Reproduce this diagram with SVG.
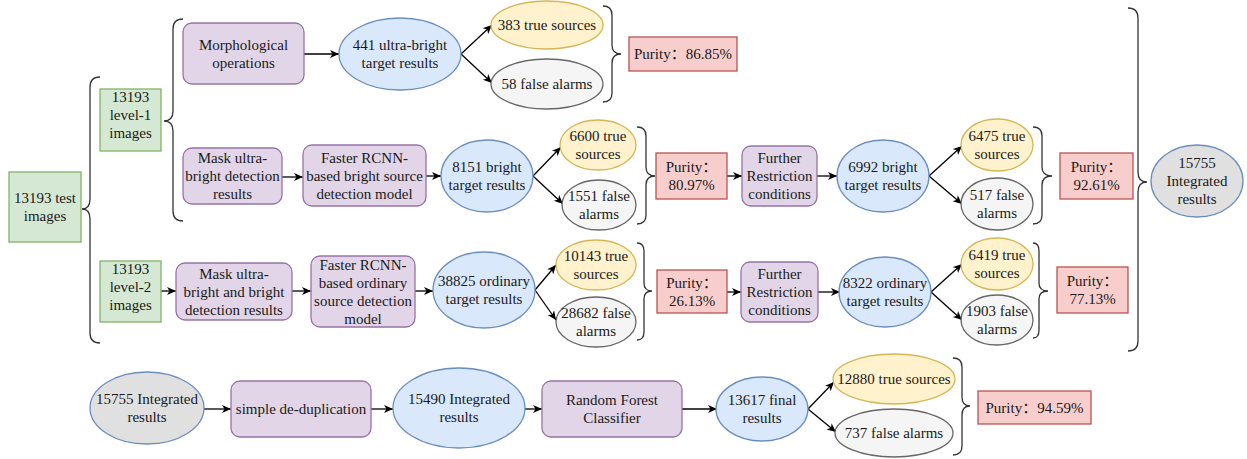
<svg xmlns="http://www.w3.org/2000/svg" width="1247" height="459" viewBox="0 0 1247 459">
  <defs>
    <marker id="arrow" markerUnits="userSpaceOnUse" markerWidth="10" markerHeight="9" refX="9" refY="4" orient="auto">
      <path d="M0,0 L9,4 L0,8 L2.5,4 z" fill="#000"/>
    </marker>
    <style>
      text { font-size: 15px; fill: #1a1a1a; text-anchor: middle; }
      .proc { fill: #e1d5e7; stroke: #9673a6; stroke-width: 1.3; }
      .img { fill: #d5e8d4; stroke: #82b366; stroke-width: 1.3; }
      .res { fill: #dae8fc; stroke: #6c8ebf; stroke-width: 1.3; }
      .true { fill: #fff2cc; stroke: #d6b656; stroke-width: 1.3; }
      .false { fill: #f5f5f5; stroke: #666666; stroke-width: 1.3; }
      .total { fill: #e0e0e0; stroke: #6c8ebf; stroke-width: 1.3; }
      .purity { fill: #f8cecc; stroke: #b85450; stroke-width: 1.3; }
      .edge { fill: none; stroke: #000; stroke-width: 1.3; marker-end: url(#arrow); }
      .brace { fill: none; stroke: #333; stroke-width: 1.3; }
    </style>
  </defs>
  <rect width="1247" height="459" fill="#fff"/>

  <g font-family="Liberation Serif, DejaVu Serif, Noto Sans CJK SC, serif">
  <!-- braces grouping branches -->
  <g id="braces">
    <path class="brace" d="M100,77 Q90,77 90,87 L90,199 Q90,209 82,209 Q90,209 90,219 L90,333 Q90,343 100,343"/>
    <path class="brace" d="M183,19 Q173,19 173,29 L173,111 Q173,121 164,121 Q173,121 173,131 L173,211 Q173,221 183,221"/>
    <path class="brace" d="M603,6 Q612,6 612,15 L612,45 Q612,54 621,54 Q612,54 612,63 L612,93 Q612,102 603,102"/>
    <path class="brace" d="M637,127 Q646,127 646,136 L646,167 Q646,176 655,176 Q646,176 646,185 L646,215 Q646,224 637,224"/>
    <path class="brace" d="M1033,127 Q1042,127 1042,136 L1042,167 Q1042,176 1052,176 Q1042,176 1042,185 L1042,215 Q1042,224 1033,224"/>
    <path class="brace" d="M1128,8 Q1138,8 1138,18 L1138,172 Q1138,182 1147,182 Q1138,182 1138,192 L1138,341 Q1138,351 1128,351"/>
    <path class="brace" d="M637,243 Q644,243 644,251 L644,283 Q644,291 652,291 Q644,291 644,299 L644,332 Q644,340 637,340"/>
    <path class="brace" d="M1033,243 Q1039,243 1039,251 L1039,283 Q1039,291 1048,291 Q1039,291 1039,299 L1039,330 Q1039,338 1033,338"/>
    <path class="brace" d="M953,358 Q962,358 962,367 L962,397 Q962,406 970,406 Q962,406 962,415 L962,446 Q962,455 953,455"/>
  </g>

  <!-- connectors -->
  <g id="connectors">
    <line class="edge" x1="304" y1="54" x2="339" y2="54"/>
    <line class="edge" x1="461" y1="54" x2="492" y2="25"/>
    <line class="edge" x1="461" y1="54" x2="492" y2="83"/>
    <line class="edge" x1="282" y1="177" x2="303" y2="177"/>
    <line class="edge" x1="426" y1="176" x2="441" y2="176"/>
    <line class="edge" x1="533" y1="176" x2="561" y2="147"/>
    <line class="edge" x1="533" y1="176" x2="563" y2="204"/>
    <line class="edge" x1="727" y1="176" x2="742" y2="176"/>
    <line class="edge" x1="817" y1="176" x2="837" y2="176"/>
    <line class="edge" x1="929" y1="176" x2="962" y2="146"/>
    <line class="edge" x1="929" y1="176" x2="962" y2="204"/>
    <line class="edge" x1="161" y1="291" x2="176" y2="291"/>
    <line class="edge" x1="292" y1="291" x2="311" y2="291"/>
    <line class="edge" x1="415" y1="291" x2="433" y2="291"/>
    <line class="edge" x1="535" y1="290" x2="556" y2="265"/>
    <line class="edge" x1="535" y1="290" x2="556" y2="320"/>
    <line class="edge" x1="727" y1="292" x2="741" y2="292"/>
    <line class="edge" x1="818" y1="292" x2="840" y2="292"/>
    <line class="edge" x1="931" y1="292" x2="962" y2="264"/>
    <line class="edge" x1="931" y1="292" x2="962" y2="320"/>
    <line class="edge" x1="204" y1="409" x2="231" y2="409"/>
    <line class="edge" x1="371" y1="409" x2="393" y2="409"/>
    <line class="edge" x1="525" y1="409" x2="542" y2="409"/>
    <line class="edge" x1="682" y1="409" x2="717" y2="409"/>
    <line class="edge" x1="808" y1="409" x2="834" y2="382"/>
    <line class="edge" x1="808" y1="409" x2="836" y2="432"/>
  </g>

  <!-- input images -->
  <g id="test-images">
    <rect class="img" x="9" y="172" width="72" height="70"/>
    <text x="45" y="203">13193 test<tspan x="45" dy="18">images</tspan></text>
  </g>
  <g id="level1-images">
    <rect class="img" x="100" y="89" width="61" height="62"/>
    <text x="130.5" y="102">13193<tspan x="130.5" dy="18">level-1</tspan><tspan x="130.5" dy="18">images</tspan></text>
  </g>
  <g id="level2-images">
    <rect class="img" x="100" y="261" width="61" height="61"/>
    <text x="130.5" y="273.5">13193<tspan x="130.5" dy="18">level-2</tspan><tspan x="130.5" dy="18">images</tspan></text>
  </g>

  <!-- ultra-bright branch -->
  <g id="morphological">
    <rect class="proc" x="183" y="23" width="121" height="61" rx="9"/>
    <text x="243.5" y="49.5">Morphological<tspan x="243.5" dy="18">operations</tspan></text>
  </g>
  <g id="ultra-bright-results">
    <ellipse class="res" cx="400" cy="54" rx="61" ry="36"/>
    <text x="400" y="50">441 ultra-bright<tspan x="400" dy="18">target results</tspan></text>
  </g>
  <g id="ultra-bright-true">
    <ellipse class="true" cx="547" cy="25" rx="56" ry="24"/>
    <text x="547" y="30">383 true sources</text>
  </g>
  <g id="ultra-bright-false">
    <ellipse class="false" cx="547" cy="84" rx="56" ry="25"/>
    <text x="547" y="89">58 false alarms</text>
  </g>
  <g id="purity-ultra-bright">
    <rect class="purity" x="629" y="37" width="108" height="34"/>
    <text x="683" y="59">Purity：86.85%</text>
  </g>

  <!-- bright branch -->
  <g id="mask-ultra-bright">
    <rect class="proc" x="183" y="148" width="99" height="56" rx="9"/>
    <text x="232.5" y="163">Mask ultra-<tspan x="232.5" dy="18">bright detection</tspan><tspan x="232.5" dy="18">results</tspan></text>
  </g>
  <g id="bright-model">
    <rect class="proc" x="303" y="145" width="123" height="61" rx="9"/>
    <text x="364.5" y="162.5">Faster RCNN-<tspan x="364.5" dy="18">based bright source</tspan><tspan x="364.5" dy="18">detection model</tspan></text>
  </g>
  <g id="bright-results">
    <ellipse class="res" cx="487" cy="176" rx="46" ry="36"/>
    <text x="487" y="172">8151 bright<tspan x="487" dy="18">target results</tspan></text>
  </g>
  <g id="bright-true">
    <ellipse class="true" cx="598" cy="145" rx="38" ry="25"/>
    <text x="598" y="141">6600 true<tspan x="598" dy="18">sources</tspan></text>
  </g>
  <g id="bright-false">
    <ellipse class="false" cx="599" cy="205" rx="37" ry="25"/>
    <text x="599" y="201">1551 false<tspan x="599" dy="18">alarms</tspan></text>
  </g>
  <g id="purity-bright">
    <rect class="purity" x="656" y="153" width="71" height="46"/>
    <text x="691.5" y="172">Purity：<tspan x="691.5" dy="18">80.97%</tspan></text>
  </g>
  <g id="restriction-bright">
    <rect class="proc" x="742" y="146" width="75" height="60" rx="9"/>
    <text x="779.5" y="163">Further<tspan x="779.5" dy="18">Restriction</tspan><tspan x="779.5" dy="18">conditions</tspan></text>
  </g>
  <g id="bright-filtered">
    <ellipse class="res" cx="883" cy="176" rx="46" ry="36"/>
    <text x="883" y="172">6992 bright<tspan x="883" dy="18">target results</tspan></text>
  </g>
  <g id="bright-filtered-true">
    <ellipse class="true" cx="997" cy="145" rx="36" ry="26"/>
    <text x="997" y="141">6475 true<tspan x="997" dy="18">sources</tspan></text>
  </g>
  <g id="bright-filtered-false">
    <ellipse class="false" cx="997" cy="204" rx="36" ry="26"/>
    <text x="997" y="200">517 false<tspan x="997" dy="18">alarms</tspan></text>
  </g>
  <g id="purity-bright-filtered">
    <rect class="purity" x="1060" y="153" width="73" height="46"/>
    <text x="1096.5" y="172">Purity：<tspan x="1096.5" dy="18">92.61%</tspan></text>
  </g>

  <!-- ordinary branch -->
  <g id="mask-bright">
    <rect class="proc" x="176" y="263" width="116" height="57" rx="9"/>
    <text x="234" y="278.5">Mask ultra-<tspan x="234" dy="18">bright and bright</tspan><tspan x="234" dy="18">detection results</tspan></text>
  </g>
  <g id="ordinary-model">
    <rect class="proc" x="311" y="256" width="104" height="71" rx="9"/>
    <text x="363" y="269.5">Faster RCNN-<tspan x="363" dy="18">based ordinary</tspan><tspan x="363" dy="18">source detection</tspan><tspan x="363" dy="18">model</tspan></text>
  </g>
  <g id="ordinary-results">
    <ellipse class="res" cx="484" cy="290" rx="51" ry="38"/>
    <text x="484" y="286">38825 ordinary<tspan x="484" dy="18">target results</tspan></text>
  </g>
  <g id="ordinary-true">
    <ellipse class="true" cx="596" cy="265" rx="40" ry="25"/>
    <text x="596" y="261">10143 true<tspan x="596" dy="18">sources</tspan></text>
  </g>
  <g id="ordinary-false">
    <ellipse class="false" cx="596" cy="322" rx="40" ry="25"/>
    <text x="596" y="318">28682 false<tspan x="596" dy="18">alarms</tspan></text>
  </g>
  <g id="purity-ordinary">
    <rect class="purity" x="657" y="270" width="70" height="43"/>
    <text x="692" y="287.5">Purity：<tspan x="692" dy="18">26.13%</tspan></text>
  </g>
  <g id="restriction-ordinary">
    <rect class="proc" x="741" y="262" width="77" height="60" rx="9"/>
    <text x="779.5" y="279">Further<tspan x="779.5" dy="18">Restriction</tspan><tspan x="779.5" dy="18">conditions</tspan></text>
  </g>
  <g id="ordinary-filtered">
    <ellipse class="res" cx="885" cy="292" rx="46" ry="35"/>
    <text x="885" y="288">8322 ordinary<tspan x="885" dy="18">target results</tspan></text>
  </g>
  <g id="ordinary-filtered-true">
    <ellipse class="true" cx="997" cy="264" rx="36" ry="26"/>
    <text x="997" y="260">6419 true<tspan x="997" dy="18">sources</tspan></text>
  </g>
  <g id="ordinary-filtered-false">
    <ellipse class="false" cx="997" cy="320" rx="36" ry="25"/>
    <text x="997" y="316">1903 false<tspan x="997" dy="18">alarms</tspan></text>
  </g>
  <g id="purity-ordinary-filtered">
    <rect class="purity" x="1057" y="267" width="71" height="46"/>
    <text x="1092.5" y="286">Purity：<tspan x="1092.5" dy="18">77.13%</tspan></text>
  </g>

  <g id="integrated-total">
    <ellipse class="total" cx="1197" cy="181" rx="46" ry="36"/>
    <text x="1197" y="168">15755<tspan x="1197" dy="18">Integrated</tspan><tspan x="1197" dy="18">results</tspan></text>
  </g>

  <!-- post-processing chain -->
  <g id="integrated-input">
    <ellipse class="total" cx="147" cy="408" rx="57" ry="36"/>
    <text x="147" y="404">15755 Integrated<tspan x="147" dy="18">results</tspan></text>
  </g>
  <g id="deduplication">
    <rect class="proc" x="231" y="381" width="140" height="56" rx="9"/>
    <text x="301" y="414">simple de-duplication</text>
  </g>
  <g id="deduplicated">
    <ellipse class="res" cx="459" cy="408" rx="66" ry="40"/>
    <text x="459" y="404">15490 Integrated<tspan x="459" dy="18">results</tspan></text>
  </g>
  <g id="random-forest">
    <rect class="proc" x="542" y="381" width="140" height="56" rx="9"/>
    <text x="612" y="405">Random Forest<tspan x="612" dy="18">Classifier</tspan></text>
  </g>
  <g id="final-results">
    <ellipse class="res" cx="762" cy="409" rx="46" ry="32"/>
    <text x="762" y="405">13617 final<tspan x="762" dy="18">results</tspan></text>
  </g>
  <g id="final-true">
    <ellipse class="true" cx="894" cy="379" rx="61" ry="25"/>
    <text x="894" y="384">12880 true sources</text>
  </g>
  <g id="final-false">
    <ellipse class="false" cx="894" cy="433" rx="59" ry="24"/>
    <text x="894" y="438">737 false alarms</text>
  </g>
  <g id="purity-final">
    <rect class="purity" x="978" y="391" width="113" height="33"/>
    <text x="1034.5" y="412.5">Purity：94.59%</text>
  </g>
  </g>
</svg>
